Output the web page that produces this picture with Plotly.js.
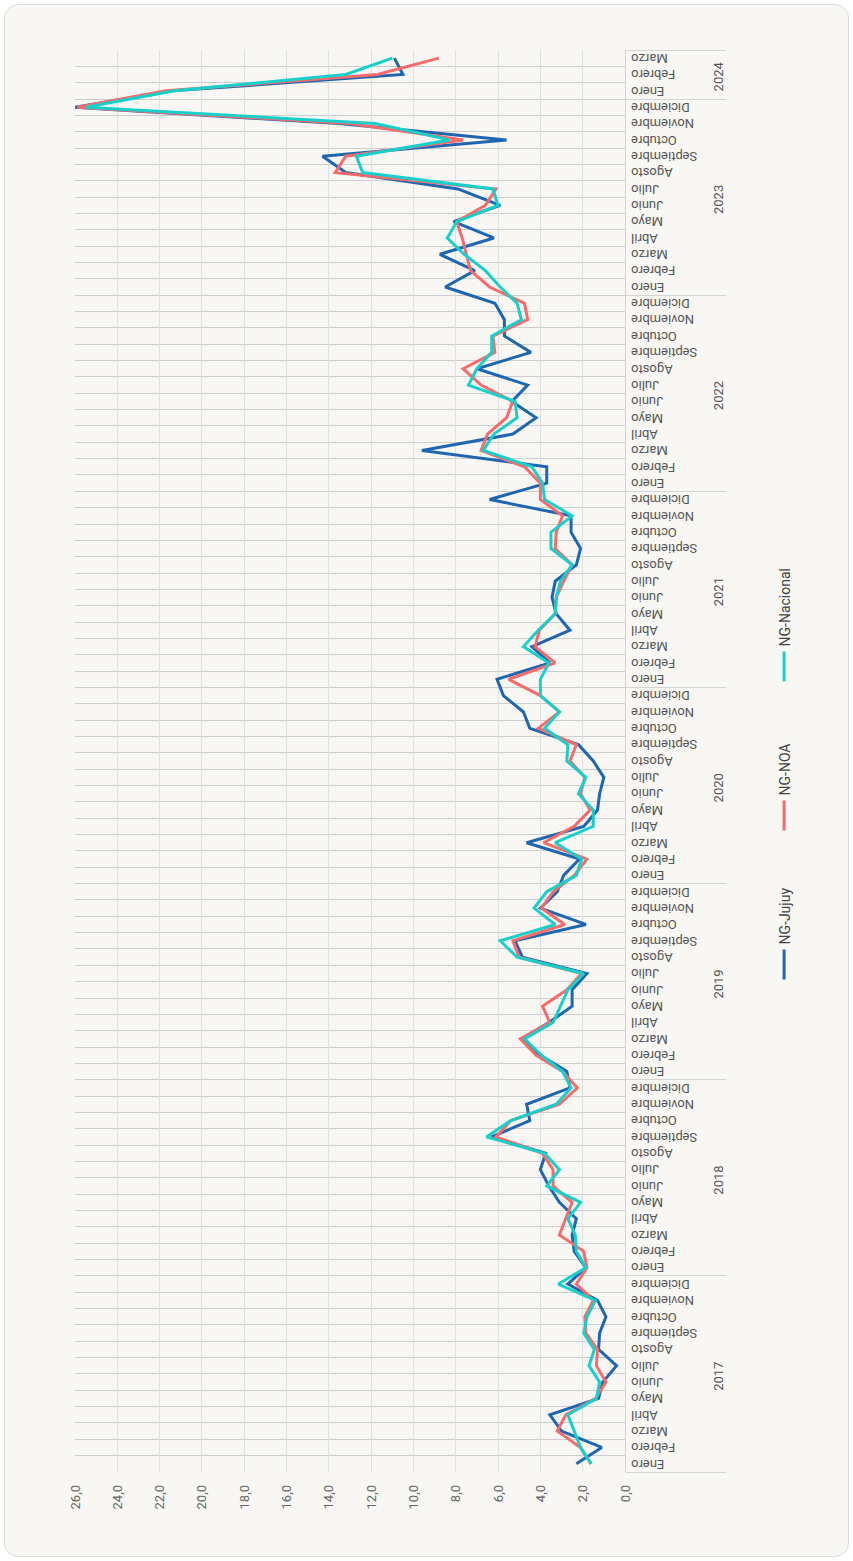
<!DOCTYPE html>
<html>
<head>
<meta charset="utf-8">
<script src="https://cdn.plot.ly/plotly-3.0.1.min.js"></script>
<style>
  html, body { margin: 0; padding: 0; background: #ffffff; }
  #wrap { position: relative; width: 853px; height: 1561px; overflow: hidden; }
  #card { position: absolute; left: 4px; top: 4px; width: 843px; height: 1551px;
          background: #f8f7f4; border: 1px solid #dcdcdc; border-radius: 14px; }
  #chart { position: absolute; width: 1561px; height: 853px; left: -354px; top: 354px;
           transform: rotate(-90deg); transform-origin: 50% 50%; }
</style>
</head>
<body>
<div id="wrap">
  <div id="card"></div>
  <div id="chart"></div>
</div>
<script>
// ---- categories ----
const years = ['2017', '2018', '2019', '2020', '2021', '2022', '2023', '2024'];
const monthNames = ['Enero', 'Febrero', 'Marzo', 'Abril', 'Mayo', 'Junio', 'Julio',
  'Agosto', 'Septiembre', 'Octubre', 'Noviembre', 'Diciembre'];
const monthsInLastYear = 3;

// ---- series values (monthly %, Ene 2017 .. Mar 2024) ----
const ngJujuy = [
  2.3, 1.1, 3.0, 3.55, 1.25, 1.05, 0.4, 1.25, 1.2, 0.9, 1.3, 2.7,
  1.85, 2.4, 2.5, 2.3, 3.1, 3.6, 4.0, 3.75, 6.3, 4.5, 4.65, 2.6,
  2.75, 4.0, 4.9, 3.6, 2.5, 2.5, 1.8, 4.85, 5.2, 1.85, 4.0, 3.2,
  2.9, 2.15, 4.65, 1.95, 1.3, 1.2, 1.0, 1.5, 2.2, 4.5, 4.8, 5.75,
  6.05, 3.55, 4.4, 2.6, 3.25, 3.45, 3.3, 2.3, 2.1, 2.55, 2.55, 6.4,
  3.7, 3.7, 9.6, 5.3, 4.2, 5.35, 4.6, 7.0, 4.45, 5.7, 5.7, 6.15,
  8.5, 7.1, 8.75, 6.2, 8.1, 5.9, 7.9, 13.2, 14.3, 5.6, 13.5, 26.0,
  21.4, 10.5, 10.9
];
const ngNOA = [
  1.6, 2.1, 3.2, 2.8, 1.4, 0.9, 1.35, 1.3, 1.85, 1.9, 1.5, 2.3,
  1.8, 1.95, 3.1, 2.8, 2.5, 3.4, 3.4, 3.9, 6.1, 5.4, 3.1, 2.25,
  2.95, 4.2, 4.95, 3.55, 3.9, 2.75, 2.05, 5.0, 5.3, 2.85, 3.95, 3.4,
  2.4, 1.8, 3.85, 2.4, 1.65, 2.1, 1.9, 2.6, 2.3, 4.1, 3.1, 4.0,
  5.5, 3.3, 4.25, 4.05, 3.3, 3.25, 2.9, 2.5, 3.3, 3.25, 2.95, 4.0,
  4.0, 4.75, 6.8, 6.5, 5.6, 5.3, 6.8, 7.65, 6.15, 6.25, 4.6, 4.75,
  6.4, 7.3, 7.5, 7.7, 7.95, 6.6, 6.1, 13.7, 13.2, 7.65, 13.0, 25.9,
  21.7, 11.7, 8.8
];
const ngNacional = [
  1.6, 2.1, 2.4, 2.7, 1.35, 1.2, 1.7, 1.45, 1.95, 1.8, 1.4, 3.15,
  1.85, 2.3, 2.35, 2.7, 2.1, 3.7, 3.1, 3.8, 6.55, 5.4, 3.25, 2.55,
  2.95, 3.95, 4.75, 3.4, 3.05, 2.7, 1.95, 5.1, 5.9, 3.3, 4.3, 3.7,
  2.3, 2.05, 3.3, 1.5, 1.5, 2.2, 1.85, 2.75, 2.7, 3.8, 3.1, 4.0,
  4.0, 3.6, 4.8, 4.1, 3.3, 3.25, 3.05, 2.5, 3.5, 3.5, 2.5, 3.8,
  3.9, 4.4, 6.7, 6.2, 5.1, 5.2, 7.4, 7.0, 6.3, 6.3, 4.9, 5.1,
  5.9, 6.6, 7.6, 8.4, 7.95, 6.0, 6.25, 12.4, 12.7, 8.3, 11.8, 25.5,
  21.3, 13.2, 11.0
];

const seriesNames = ['NG-Jujuy', 'NG-NOA', 'NG-Nacional'];
const seriesColors = ['#1f66b1', '#f76b6b', '#18d0cb'];

// build multicategory axis from the category lists
const catYears = [], catMonths = [];
years.forEach((y, yi) => {
  const n = (yi === years.length - 1) ? monthsInLastYear : 12;
  for (let m = 0; m < n; m++) { catYears.push(y); catMonths.push(monthNames[m]); }
});

const seriesValues = [ngJujuy, ngNOA, ngNacional];
const traces = seriesValues.map((vals, i) => ({
  type: 'scatter',
  mode: 'lines',
  name: seriesNames[i],
  x: [catYears, catMonths],
  y: vals,
  line: { color: seriesColors[i], width: 3 },
  hoverinfo: 'x+y+name'
}));

const layout = {
  width: 1561,
  height: 853,
  margin: { l: 89, r: 50, t: 75, b: 228 },
  paper_bgcolor: 'rgba(0,0,0,0)',
  plot_bgcolor: 'rgba(0,0,0,0)',
  separators: ',.',
  font: { family: 'Roboto, "Open Sans", sans-serif', color: '#555' },
  showlegend: true,
  legend: {
    orientation: 'h',
    x: 0.5, xanchor: 'center',
    y: -0.29, yanchor: 'middle',
    entrywidth: 104,
    font: { size: 14, color: '#444' },
    bgcolor: 'rgba(0,0,0,0)'
  },
  xaxis: {
    type: 'multicategory',
    range: [-0.5, catMonths.length - 0.5],
    tickangle: -90,
    tickfont: { size: 13, color: '#555' },
    showgrid: true,
    gridcolor: '#cdcdcd',
    gridwidth: 1,
    showline: true,
    linecolor: '#d4d4d4',
    linewidth: 1,
    showdividers: true,
    dividercolor: '#d4d4d4',
    dividerwidth: 1,
    automargin: false,
    zeroline: false
  },
  yaxis: {
    range: [0, 26],
    dtick: 2,
    tick0: 0,
    tickformat: '.1f',
    tickfont: { size: 13, color: '#666' },
    showgrid: true,
    gridcolor: '#e0e0e0',
    gridwidth: 1,
    zeroline: false,
    showline: false,
    ticklabelstandoff: 12,
    automargin: false
  }
};

Plotly.newPlot('chart', traces, layout, { displayModeBar: false, staticPlot: true });
</script>
</body>
</html>
